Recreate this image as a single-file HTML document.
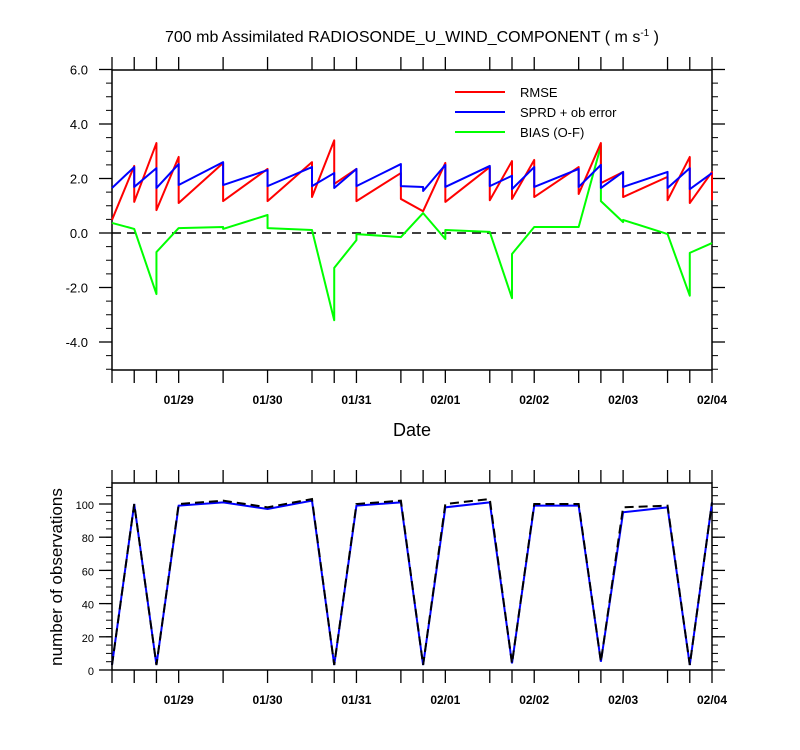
<!DOCTYPE html>
<html><head><meta charset="utf-8"><style>
body{margin:0;background:#fff}
svg{display:block;font-family:"Liberation Sans",sans-serif}
</style></head><body>
<svg id="c" width="800" height="750" viewBox="0 0 800 750">
<text x="412" y="42" text-anchor="middle" font-size="16">700 mb Assimilated RADIOSONDE_U_WIND_COMPONENT ( m s<tspan dy="-6" font-size="10">-1</tspan><tspan dy="6"> )</tspan></text>
<text x="412" y="436" text-anchor="middle" font-size="18">Date</text>
<text transform="translate(62,577) rotate(-90)" text-anchor="middle" font-size="17">number of observations</text>
<g id="topPanel"></g>
<g id="botPanel"></g>
<g id="legend">
<line x1="455" y1="92" x2="505" y2="92" stroke="#f00" stroke-width="2"/>
<text x="520" y="97" font-size="13">RMSE</text>
<line x1="455" y1="112" x2="505" y2="112" stroke="#00f" stroke-width="2"/>
<text x="520" y="117" font-size="13">SPRD + ob error</text>
<line x1="455" y1="132" x2="505" y2="132" stroke="#0f0" stroke-width="2"/>
<text x="520" y="137" font-size="13">BIAS (O-F)</text>
</g>
</svg>
<script>
// times in 6-hour steps from 01/28 06Z
const times=[0,1,2,3,5,7,9,10,11,13,14,15,17,18,19,21,22,23,25,26,27];
// each time: [arriving value, departing value]
const rmse=[[0.48,0.48],[2.46,1.14],[3.3,0.84],[2.79,1.1],[2.57,1.17],[2.35,1.17],[2.6,1.32],[3.4,1.8],[2.35,1.17],[2.2,1.25],[0.8,0.8],[2.57,1.14],[2.42,1.2],[2.64,1.25],[2.68,1.32],[2.42,1.43],[3.3,1.83],[2.24,1.32],[2.06,1.2],[2.79,1.1],[2.24,1.2]];
const sprd=[[1.65,1.65],[2.42,1.69],[2.38,1.65],[2.53,1.76],[2.6,1.76],[2.31,1.72],[2.42,1.72],[2.2,1.65],[2.35,1.72],[2.53,1.72],[1.69,1.54],[2.5,1.69],[2.46,1.72],[2.1,1.61],[2.42,1.69],[2.35,1.69],[2.5,1.65],[2.24,1.69],[2.24,1.65],[2.38,1.61],[2.2,2.2]];
const bias=[[0.37,0.37],[0.15,0.15],[-2.24,-0.7],[0.18,0.18],[0.22,0.15],[0.66,0.18],[0.11,0.11],[-3.2,-1.28],[-0.26,-0.04],[-0.15,-0.15],[0.73,0.73],[-0.22,0.11],[0.04,0.04],[-2.39,-0.77],[0.22,0.22],[0.22,0.22],[3.2,1.17],[0.4,0.48],[-0.04,-0.04],[-2.3,-0.73],[-0.37,-0.37]];
const nobsUsed=[3,100,3,99,101,97,102,3,99,101,3,98,101,4,99,99,5,95,98,3,101];
const nobsTotal=[3,100,3,100,102,98,103,3,100,102,3,100,103,4,100,100,5,98,99,3,101];
const dateLabels=["01/29","01/30","01/31","02/01","02/02","02/03","02/04"];
const dateTimes=[3,7,11,15,19,23,27];
const topTicks=[-4,-2,0,2,4,6];
const botTicks=[0,20,40,60,80,100];

const NS="http://www.w3.org/2000/svg";
const X0=112,X1=712;
const xs=t=>X0+t*(X1-X0)/27;
const yT=v=>233-v*27.25;
const yB=v=>670-v*1.66;
function el(tag,attrs,parent){const e=document.createElementNS(NS,tag);for(const k in attrs)e.setAttribute(k,attrs[k]);parent.appendChild(e);return e;}
const topG=document.getElementById('topPanel'),botG=document.getElementById('botPanel');

function frame(g,y0,y1,ticks,yf,minorStep,minorRange,fmt,fs,lblOff){
  const r=el('rect',{x:X0,y:y0,width:X1-X0,height:y1-y0,fill:'none',stroke:'#000','stroke-width':1.5},g);
  
  
  for(const t of times){
    el('line',{x1:xs(t),x2:xs(t),y1:y0,y2:y0-13,stroke:'#000','stroke-width':1.3},g);
    el('line',{x1:xs(t),x2:xs(t),y1:y1,y2:y1+13,stroke:'#000','stroke-width':1.3},g);
  }
  for(let v=minorRange[0];v<=minorRange[1]+1e-9;v+=minorStep){
    const y=yf(v);
    el('line',{x1:X0,x2:X0-6,y1:y,y2:y,stroke:'#000','stroke-width':1},g);
    el('line',{x1:X1,x2:X1+6,y1:y,y2:y,stroke:'#000','stroke-width':1},g);
  }
  for(const v of ticks){
    const y=yf(v);
    el('line',{x1:X0,x2:X0-13,y1:y,y2:y,stroke:'#000','stroke-width':1.3},g);
    el('line',{x1:X1,x2:X1+13,y1:y,y2:y,stroke:'#000','stroke-width':1.3},g);
    const tx=el('text',{x:X0-lblOff,y:y+5,'text-anchor':'end','font-size':fs},g);
    
    
    tx.textContent=fmt(v);
  }
  for(let i=0;i<dateLabels.length;i++){
    const tx=el('text',{x:xs(dateTimes[i]),y:y1+34,'text-anchor':'middle','font-size':12,'font-weight':'bold'},g);
    
    
    tx.textContent=dateLabels[i];
  }
}
frame(topG,70,370,topTicks,yT,0.5,[-5,6],v=>v.toFixed(1),13,24);
frame(botG,483,670,botTicks,yB,5,[0,110],v=>String(v),11,18);

const zl=el('line',{x1:X0,x2:X1,y1:yT(0),y2:yT(0),stroke:'#000','stroke-width':1.5,'stroke-dasharray':'9,6'},topG);



function pairLine(arr,color,name){
  let d='';
  arr.forEach((p,i)=>{const x=xs(times[i]);d+=(i?'L':'M')+x+','+yT(p[0])+'L'+x+','+yT(p[1]);});
  const e=el('path',{d:d,fill:'none',stroke:color,'stroke-width':2,'stroke-linejoin':'round'},topG);
  
  
}
pairLine(bias,'#0f0','bias-line');
pairLine(rmse,'#f00','rmse-line');
pairLine(sprd,'#00f','sprd-line');

function simpleLine(arr,color,name,dash){
  const d=arr.map((v,i)=>(i?'L':'M')+xs(times[i])+','+yB(v)).join('');
  const a={d:d,fill:'none',stroke:color,'stroke-width':2};
  if(dash)a['stroke-dasharray']=dash;
  const e=el('path',a,botG);
  
  
}
simpleLine(nobsUsed,'#00f','nobs-used-line');
simpleLine(nobsTotal,'#000','nobs-total-line','9,5');
</script>
</body></html>
